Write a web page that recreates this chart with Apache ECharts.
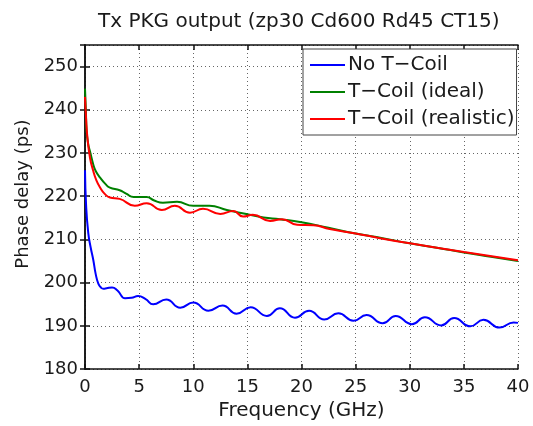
<!DOCTYPE html>
<html>
<head>
<meta charset="utf-8">
<script src="https://cdn.jsdelivr.net/npm/echarts@6/dist/echarts.min.js"></script>
<style>
  html, body { margin: 0; padding: 0; background: #fff; }
  #chart { width: 533px; height: 426px; }
</style>
</head>
<body>
<div id="chart"></div>
<script>
// phase delay vs frequency
const titleText = 'Tx PKG output (zp30 Cd600 Rd45 CT15)';
const seriesNames = ['No T\u2212Coil', 'T\u2212Coil (ideal)', 'T\u2212Coil (realistic)'];

const noCoilFreq = [0, 0.1, 0.3, 0.52, 0.77, 0.98, 1.23, 1.5, 1.7, 2.0, 2.5, 3.0, 3.7, 4.3, 4.9, 5.6, 6.3, 7.5, 8.8, 10.0, 11.4, 12.7, 14.0, 15.3, 16.8, 18.0, 19.4, 20.7, 22.1, 23.4, 24.8, 26.0, 27.5, 28.7, 30.2, 31.4, 32.9, 34.1, 35.6, 36.8, 38.3, 39.6, 40];
const noCoilDelay = [226.0, 218.0, 211.5, 208.2, 205.2, 202.1, 199.8, 198.8, 198.6, 198.7, 198.9, 198.2, 196.4, 196.5, 196.9, 196.2, 195.0, 196.1, 194.2, 195.4, 193.5, 194.7, 192.8, 194.3, 192.3, 194.1, 191.9, 193.5, 191.5, 192.9, 191.2, 192.5, 190.6, 192.3, 190.4, 192.0, 190.1, 191.8, 189.9, 191.4, 189.6, 190.8, 190.7];

const idealFreq = [0, 0.08, 0.15, 0.3, 0.46, 0.77, 1.0, 1.4, 1.9, 2.3, 3.2, 3.8, 4.5, 5.7, 6.4, 7.2, 8.5, 10.0, 11.5, 13.1, 14.9, 16.5, 18.0, 20.0, 22.5, 25.0, 27.5, 30.0, 32.5, 35.0, 37.5, 40];
const idealDelay = [244.9, 240.0, 235.0, 232.0, 230.4, 227.3, 225.8, 224.3, 222.8, 222.0, 221.4, 220.6, 219.8, 219.8, 219.0, 218.5, 218.7, 217.8, 217.8, 216.8, 215.9, 215.1, 214.7, 214.0, 212.7, 211.4, 210.3, 209.1, 208.1, 207.0, 206.0, 205.0];

const realFreq = [0, 0.1, 0.2, 0.46, 0.77, 1.0, 1.39, 1.8, 2.3, 3.2, 4.6, 5.7, 7.1, 8.3, 9.7, 10.9, 12.5, 13.7, 14.6, 15.5, 17.1, 18.2, 19.6, 21.1, 22.6, 25.0, 27.25, 30.0, 35.0, 40];
const realDelay = [243.0, 238.0, 234.2, 228.9, 225.8, 224.0, 222.0, 220.6, 219.7, 219.4, 217.8, 218.4, 216.8, 217.8, 216.2, 217.1, 215.9, 216.6, 215.3, 215.7, 214.3, 214.7, 213.4, 213.3, 212.4, 211.4, 210.3, 209.1, 207.1, 205.2];

const xTicks = [0, 40, 5];     // min, max, step
const yTicks = [180, 255, 10];

const lineColors = ['#0000ff', '#008000', '#ff0000'];

const pairs = (xs, ys) => xs.map((x, i) => [x, ys[i]]);
const font = 'DejaVu Sans';

const chart = echarts.init(document.getElementById('chart'));

const axisCommon = {
  type: 'value',
  axisLine: { show: true, lineStyle: { color: '#111', width: 1.5 } },
  axisTick: { show: true, inside: true, length: 5, lineStyle: { color: '#111', width: 1.5 } },
};

chart.setOption({
  animation: false,
  backgroundColor: '#fff',
  title: {
    text: titleText,
    left: 93,
    top: 7,
    textStyle: { fontFamily: font, fontSize: 20, fontWeight: 'normal', color: '#1a1a1a' }
  },
  legend: {
    orient: 'vertical',
    left: 303,
    top: 49,
    padding: [6, 2, 6, 7],
    itemGap: 7,
    itemWidth: 35,
    itemHeight: 2,
    icon: 'rect',
    backgroundColor: '#fff',
    borderColor: '#444',
    borderWidth: 1,
    textStyle: { fontFamily: font, fontSize: 20, color: '#1a1a1a', padding: [0, 0, 0, -2] },
    data: seriesNames
  },
  grid: { left: 85, right: 15, top: 45, bottom: 53 },
  xAxis: [
    Object.assign({}, axisCommon, {
      min: xTicks[0], max: xTicks[1], interval: xTicks[2],
      position: 'bottom',
      name: 'Frequency (GHz)',
      nameLocation: 'middle',
      nameGap: 27,
      nameTextStyle: { fontFamily: font, fontSize: 20, color: '#1a1a1a' },
      axisLabel: { fontFamily: font, fontSize: 18, color: '#1a1a1a', margin: 9 },
      splitLine: { show: true, lineStyle: { color: '#666', type: [1, 3], width: 1 } }
    }),
    Object.assign({}, axisCommon, {
      min: xTicks[0], max: xTicks[1], interval: xTicks[2],
      position: 'top',
      axisLabel: { show: false },
      splitLine: { show: false }
    })
  ],
  yAxis: [
    Object.assign({}, axisCommon, {
      min: yTicks[0], max: yTicks[1], interval: yTicks[2],
      position: 'left',
      name: 'Phase delay (ps)',
      nameLocation: 'middle',
      nameRotate: 90,
      nameGap: 48,
      nameTextStyle: { fontFamily: font, fontSize: 18, color: '#1a1a1a', padding: [0, 0, 0, 26] },
      axisLabel: { fontFamily: font, fontSize: 18, color: '#1a1a1a', margin: 7, showMaxLabel: false },
      splitLine: { show: true, lineStyle: { color: '#666', type: [1, 3], width: 1 } }
    }),
    Object.assign({}, axisCommon, {
      min: yTicks[0], max: yTicks[1], interval: yTicks[2],
      position: 'right',
      axisLabel: { show: false },
      splitLine: { show: false }
    })
  ],
  series: [
    { name: seriesNames[0], type: 'line', data: pairs(noCoilFreq, noCoilDelay) },
    { name: seriesNames[1], type: 'line', data: pairs(idealFreq, idealDelay) },
    { name: seriesNames[2], type: 'line', data: pairs(realFreq, realDelay) }
  ].map((s, i) => Object.assign(s, {
    xAxisIndex: 0,
    yAxisIndex: 0,
    symbol: 'none',
    smooth: 0.5,
    itemStyle: { color: lineColors[i] },
    lineStyle: { color: lineColors[i], width: 2 }
  }))
});
</script>
</body>
</html>
